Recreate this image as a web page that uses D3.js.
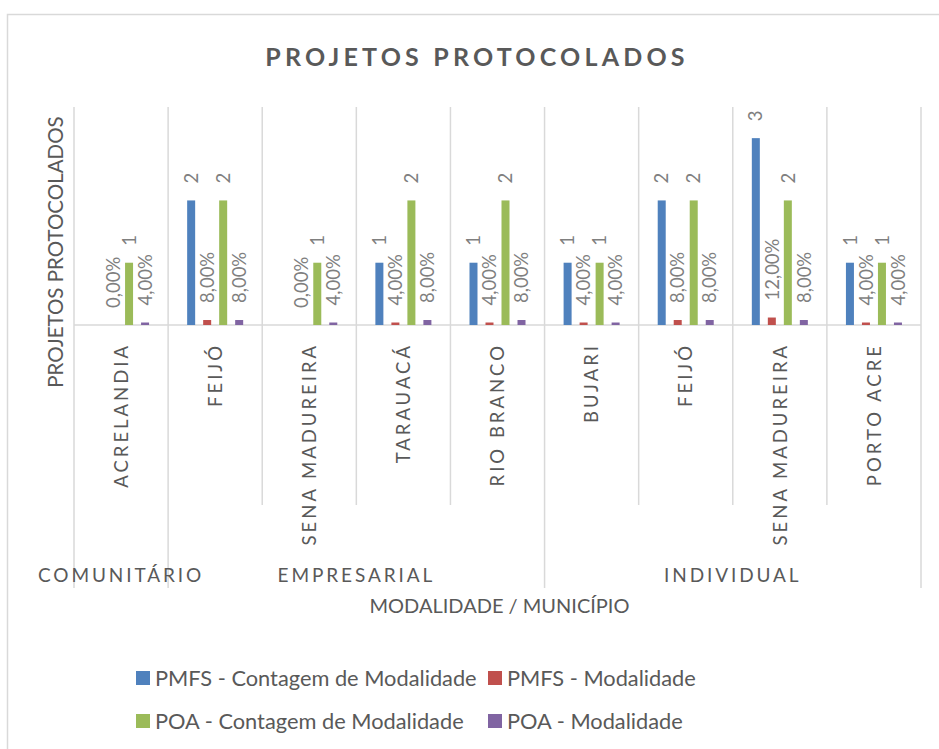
<!DOCTYPE html>
<html>
<head>
<meta charset="utf-8">
<script src="https://cdn.jsdelivr.net/npm/d3@7"></script>
<style>
    body { margin: 0; background: #fff; }
    svg { display: block; font-family: Lato, sans-serif; }
</style>
</head>
<body>
<div id="chart"></div>
<script>
// Data
const groups = ['COMUNITÁRIO', 'EMPRESARIAL', 'EMPRESARIAL', 'EMPRESARIAL', 'EMPRESARIAL',
    'INDIVIDUAL', 'INDIVIDUAL', 'INDIVIDUAL', 'INDIVIDUAL'];
const municipios = ['ACRELANDIA', 'FEIJÓ', 'SENA MADUREIRA', 'TARAUACÁ', 'RIO BRANCO',
    'BUJARI', 'FEIJÓ', 'SENA MADUREIRA', 'PORTO ACRE'];
const pmfsCount = [null, 2, null, 1, 1, 1, 2, 3, 1];
const pmfsPct = [0, 0.08, 0, 0.04, 0.04, 0.04, 0.08, 0.12, 0.04];
const poaCount = [1, 2, 1, 2, 2, 1, 2, 2, 1];
const poaPct = [0.04, 0.08, 0.04, 0.08, 0.08, 0.04, 0.08, 0.08, 0.04];

const seriesNames = ['PMFS - Contagem de Modalidade', 'PMFS - Modalidade',
    'POA - Contagem de Modalidade', 'POA - Modalidade'];
const seriesColors = ['#4f81bd', '#c0504d', '#9bbb59', '#8064a2'];
const seriesIsPct = [false, true, false, true];
const seriesValues = [pmfsCount, pmfsPct, poaCount, poaPct];

const W = 939, H = 749;
const plot = { left: 74, right: 921, top: 107, bottom: 325 };
const grid = '#d9d9d9';
const textDark = '#595959';
const textLabel = '#7f7f7f';

const br = d3.formatLocale({ decimal: ',', thousands: '.', grouping: [3], currency: ['R$', ''] });
const fmtPct = br.format('.2%');
const fmtInt = br.format('d');

const svg = d3.select('#chart').append('svg').attr('width', W).attr('height', H);

// chart area border (runs off the right and bottom edges)
svg.append('rect')
    .attr('x', 7.5).attr('y', 14.5).attr('width', 1000).attr('height', 1000)
    .attr('fill', 'none').attr('stroke', grid).attr('stroke-width', 1.5);

// SCALES
const idx = municipios.map((d, i) => i);
const x0 = d3.scaleBand().domain(idx).range([plot.left, plot.right]);
const x1 = d3.scaleBand().domain(d3.range(seriesNames.length))
    .range([0, x0.bandwidth()]).paddingInner(0.5).paddingOuter(1.19);
const y = d3.scaleLinear().domain([0, 3.5]).range([plot.bottom, plot.top]);

// Title
svg.append('text')
    .attr('x', 477).attr('y', 66)
    .attr('text-anchor', 'middle')
    .attr('font-size', '25px').attr('font-weight', 700)
    .attr('letter-spacing', '4.2px')
    .attr('fill', textDark)
    .text('PROJETOS PROTOCOLADOS');

// vertical gridlines at category boundaries
const bounds = idx.map(i => x0(i)).concat([plot.right]);
svg.append('g').selectAll('line').data(bounds).join('line')
    .attr('x1', d => d).attr('x2', d => d)
    .attr('y1', plot.top).attr('y2', plot.bottom)
    .attr('stroke', grid).attr('stroke-width', 1.5);

// baseline
svg.append('line')
    .attr('x1', plot.left).attr('x2', plot.right)
    .attr('y1', y(0)).attr('y2', y(0))
    .attr('stroke', grid).attr('stroke-width', 1.5);

// Group runs for the outer category level
const runs = [];
groups.forEach((g, i) => {
    if (runs.length && runs[runs.length - 1].name === g) runs[runs.length - 1].end = i;
    else runs.push({ name: g, start: i, end: i });
});
const groupBounds = new Set([plot.left, plot.right]);
runs.forEach(r => groupBounds.add(x0(r.start)));

// dividers under the axis
svg.append('g').selectAll('line').data(bounds).join('line')
    .attr('x1', d => d).attr('x2', d => d)
    .attr('y1', y(0))
    .attr('y2', d => groupBounds.has(d) ? 588 : 505)
    .attr('stroke', grid).attr('stroke-width', 1.5);

// BARS
const cat = svg.append('g').selectAll('g').data(idx).join('g')
    .attr('transform', i => `translate(${x0(i)},0)`);

const items = i => seriesValues.map((vals, s) => ({ s, v: vals[i] })).filter(d => d.v !== null);

cat.selectAll('rect').data(items).join('rect')
    .attr('x', d => x1(d.s))
    .attr('width', x1.bandwidth())
    .attr('y', d => y(d.v))
    .attr('height', d => y(0) - y(d.v))
    .attr('fill', d => seriesColors[d.s]);

// data labels (rotated, outside end)
cat.selectAll('text').data(items).join('text')
    .attr('transform', d => `translate(${x1(d.s) + x1.bandwidth() / 2},${y(d.v) - 17}) rotate(-90)`)
    .attr('dy', '0.36em')
    .attr('font-size', '18.5px')
    .attr('fill', textLabel)
    .text(d => seriesIsPct[d.s] ? fmtPct(d.v) : fmtInt(d.v));

// inner category labels
svg.append('g').selectAll('text').data(idx).join('text')
    .attr('transform', i => `translate(${x0(i) + x0.bandwidth() / 2},343) rotate(-90)`)
    .attr('dy', '0.36em')
    .attr('text-anchor', 'end')
    .attr('font-size', '18.5px')
    .attr('letter-spacing', '3px')
    .attr('fill', textDark)
    .text(i => municipios[i]);

// outer group labels
svg.append('g').selectAll('text').data(runs).join('text')
    .attr('x', r => (x0(r.start) + x0(r.end) + x0.bandwidth()) / 2)
    .attr('y', 582)
    .attr('text-anchor', 'middle')
    .attr('font-size', '19px')
    .attr('letter-spacing', '2.9px')
    .attr('fill', textDark)
    .text(r => r.name);

// axis titles
svg.append('text')
    .attr('x', (plot.left + plot.right) / 2 + 2).attr('y', 613)
    .attr('text-anchor', 'middle')
    .attr('font-size', '20px')
    .attr('fill', textDark)
    .text('MODALIDADE / MUNICÍPIO');

svg.append('text')
    .attr('transform', 'translate(56,252) rotate(-90)')
    .attr('dy', '0.36em')
    .attr('text-anchor', 'middle')
    .attr('font-size', '20.5px')
    .attr('fill', textDark)
    .text('PROJETOS PROTOCOLADOS');

// Legend, two per row
const legend = svg.append('g').selectAll('g').data(seriesNames).join('g')
    .attr('transform', (d, i) => `translate(${i % 2 ? 488 : 136},${i < 2 ? 678 : 721})`);
legend.append('rect')
    .attr('x', 0).attr('y', -7).attr('width', 14).attr('height', 14)
    .attr('fill', (d, i) => seriesColors[i]);
legend.append('text')
    .attr('x', 19).attr('dy', '0.36em')
    .attr('font-size', '21.8px')
    .attr('fill', textDark)
    .text(d => d);
</script>
</body>
</html>
